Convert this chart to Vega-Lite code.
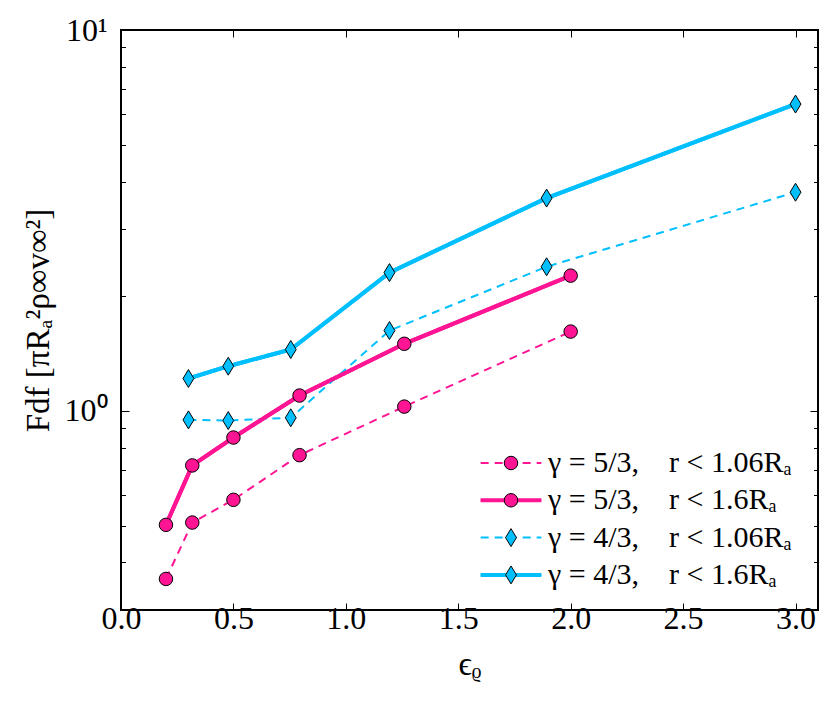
{
  "$schema": "https://vega.github.io/schema/vega-lite/v6.json",
  "width": 697,
  "height": 580,
  "autosize": {"type": "none"},
  "padding": {"left": 121, "top": 30, "right": 16, "bottom": 95},
  "background": "white",
  "config": {
    "view": {"stroke": "black", "strokeWidth": 2},
    "font": "Liberation Serif",
    "axis": {
      "domain": false,
      "grid": false,
      "tickColor": "black",
      "tickWidth": 1,
      "labelColor": "black",
      "labelFont": "Liberation Serif",
      "labelFontSize": 32,
      "labelFlush": false,
      "labelOverlap": false,
      "titleFont": "Liberation Serif",
      "titleFontSize": 33,
      "titleFontWeight": "normal",
      "titleColor": "black"
    },
    "legend": {
      "labelFont": "Liberation Serif",
      "labelColor": "black",
      "labelLimit": 0
    }
  },
  "data": {
    "values": [
      {"series": "γ = 5/3,\u2003r < 1.06Rₐ", "eps": 0.2, "F": 0.362},
      {"series": "γ = 5/3,\u2003r < 1.06Rₐ", "eps": 0.317, "F": 0.509},
      {"series": "γ = 5/3,\u2003r < 1.06Rₐ", "eps": 0.5, "F": 0.584},
      {"series": "γ = 5/3,\u2003r < 1.06Rₐ", "eps": 0.794, "F": 0.765},
      {"series": "γ = 5/3,\u2003r < 1.06Rₐ", "eps": 1.26, "F": 1.026},
      {"series": "γ = 5/3,\u2003r < 1.06Rₐ", "eps": 2.0, "F": 1.615},
      {"series": "γ = 5/3,\u2003r < 1.6Rₐ", "eps": 0.2, "F": 0.502},
      {"series": "γ = 5/3,\u2003r < 1.6Rₐ", "eps": 0.317, "F": 0.719},
      {"series": "γ = 5/3,\u2003r < 1.6Rₐ", "eps": 0.5, "F": 0.851},
      {"series": "γ = 5/3,\u2003r < 1.6Rₐ", "eps": 0.794, "F": 1.097},
      {"series": "γ = 5/3,\u2003r < 1.6Rₐ", "eps": 1.26, "F": 1.5},
      {"series": "γ = 5/3,\u2003r < 1.6Rₐ", "eps": 2.0, "F": 2.265},
      {"series": "γ = 4/3,\u2003r < 1.06Rₐ", "eps": 0.3, "F": 0.947},
      {"series": "γ = 4/3,\u2003r < 1.06Rₐ", "eps": 0.477, "F": 0.943},
      {"series": "γ = 4/3,\u2003r < 1.06Rₐ", "eps": 0.755, "F": 0.959},
      {"series": "γ = 4/3,\u2003r < 1.06Rₐ", "eps": 1.194, "F": 1.625},
      {"series": "γ = 4/3,\u2003r < 1.06Rₐ", "eps": 1.893, "F": 2.39},
      {"series": "γ = 4/3,\u2003r < 1.06Rₐ", "eps": 3.0, "F": 3.75},
      {"series": "γ = 4/3,\u2003r < 1.6Rₐ", "eps": 0.3, "F": 1.216},
      {"series": "γ = 4/3,\u2003r < 1.6Rₐ", "eps": 0.477, "F": 1.31},
      {"series": "γ = 4/3,\u2003r < 1.6Rₐ", "eps": 0.755, "F": 1.449},
      {"series": "γ = 4/3,\u2003r < 1.6Rₐ", "eps": 1.194, "F": 2.307},
      {"series": "γ = 4/3,\u2003r < 1.6Rₐ", "eps": 1.893, "F": 3.62},
      {"series": "γ = 4/3,\u2003r < 1.6Rₐ", "eps": 3.0, "F": 6.39}
    ]
  },
  "resolve": {"axis": {"x": "independent", "y": "independent"}},
  "layer": [
    {
      "mark": {"type": "line"},
      "encoding": {
        "x": {
          "field": "eps", "type": "quantitative",
          "scale": {"domain": [0, 3.1], "nice": false, "zero": false},
          "axis": {
            "orient": "bottom",
            "values": [0, 0.5, 1, 1.5, 2, 2.5, 3],
            "format": ".1f",
            "tickSize": -7,
            "labelPadding": 0,
            "title": "ϵᵨ",
            "titlePadding": 14
          }
        },
        "y": {
          "field": "F", "type": "quantitative",
          "scale": {"type": "log", "domain": [0.3, 10], "nice": false},
          "axis": {
            "orient": "left",
            "values": [0.3, 0.4, 0.5, 0.6, 0.7, 0.8, 0.9, 1, 2, 3, 4, 5, 6, 7, 8, 9, 10],
            "labelExpr": "datum.value == 1 ? '10⁰' : datum.value == 10 ? '10¹' : ''",
            "tickSize": {"condition": {"test": "datum.value == 1 || datum.value == 10", "value": -8}, "value": -4.5},
            "labelPadding": 22,
            "title": "Fdf  [πRₐ²ρ∞v∞²]",
            "titlePadding": 9
          }
        },
        "color": {
          "field": "series", "type": "nominal",
          "scale": {
            "domain": ["γ = 5/3,\u2003r < 1.06Rₐ", "γ = 5/3,\u2003r < 1.6Rₐ", "γ = 4/3,\u2003r < 1.06Rₐ", "γ = 4/3,\u2003r < 1.6Rₐ"],
            "range": ["#ff1493", "#ff1493", "#00bfff", "#00bfff"]
          },
          "legend": {
            "orient": "none",
            "legendX": 357.5,
            "legendY": 418,
            "title": null,
            "padding": 0,
            "symbolType": "M-4.5,0L4.5,0",
            "symbolSize": 182,
            "symbolOffset": 17.5,
            "symbolStrokeWidth": 2,
            "labelFontSize": 30,
            "labelOffset": 22,
            "rowPadding": 7.3
          }
        },
        "strokeDash": {
          "field": "series", "type": "nominal",
          "scale": {
            "domain": ["γ = 5/3,\u2003r < 1.06Rₐ", "γ = 5/3,\u2003r < 1.6Rₐ", "γ = 4/3,\u2003r < 1.06Rₐ", "γ = 4/3,\u2003r < 1.6Rₐ"],
            "range": [[8, 6], [1, 0], [8, 6], [1, 0]]
          }
        },
        "strokeWidth": {
          "condition": {"test": "indexof(datum.series, '1.6R') >= 0", "value": 4},
          "value": 2
        }
      }
    },
    {
      "mark": {"type": "line", "strokeWidth": 4},
      "encoding": {
        "x": {"field": "eps", "type": "quantitative", "axis": null},
        "y": {"field": "F", "type": "quantitative", "axis": null},
        "stroke": {
          "field": "series", "type": "nominal",
          "scale": {
            "domain": ["γ = 5/3,\u2003r < 1.6Rₐ", "γ = 5/3,\u2003r < 1.06Rₐ", "γ = 4/3,\u2003r < 1.6Rₐ", "γ = 4/3,\u2003r < 1.06Rₐ"],
            "range": ["#ff1493", "transparent", "#00bfff", "transparent"]
          },
          "legend": {
            "orient": "none",
            "legendX": 357.5,
            "legendY": 418,
            "title": null,
            "padding": 0,
            "values": ["γ = 5/3,\u2003r < 1.06Rₐ", "γ = 5/3,\u2003r < 1.6Rₐ", "γ = 4/3,\u2003r < 1.06Rₐ", "γ = 4/3,\u2003r < 1.6Rₐ"],
            "symbolType": "M-4.5,0L4.5,0",
            "symbolSize": 182,
            "symbolOffset": 17.5,
            "symbolStrokeWidth": 4,
            "labelFontSize": 30,
            "labelOffset": 22,
            "labelOpacity": 0,
            "rowPadding": 7.3
          }
        }
      }
    },
    {
      "mark": {"type": "point", "filled": true, "stroke": "black", "strokeWidth": 1, "opacity": 1, "size": 182},
      "encoding": {
        "x": {
          "field": "eps", "type": "quantitative",
          "axis": {
            "orient": "top",
            "values": [0, 0.5, 1, 1.5, 2, 2.5, 3],
            "tickSize": -7,
            "labels": false,
            "title": null
          }
        },
        "y": {
          "field": "F", "type": "quantitative",
          "axis": {
            "orient": "right",
            "values": [0.3, 0.4, 0.5, 0.6, 0.7, 0.8, 0.9, 1, 2, 3, 4, 5, 6, 7, 8, 9, 10],
            "tickSize": {"condition": {"test": "datum.value == 1 || datum.value == 10", "value": -8}, "value": -4.5},
            "labels": false,
            "title": null
          }
        },
        "fill": {
          "field": "series", "type": "nominal",
          "scale": {"range": ["#00bfff", "#00bfff", "#ff1493", "#ff1493"]},
          "legend": {
            "orient": "none",
            "legendX": 357.5,
            "legendY": 418,
            "title": null,
            "padding": 0,
            "values": ["γ = 5/3,\u2003r < 1.06Rₐ", "γ = 5/3,\u2003r < 1.6Rₐ", "γ = 4/3,\u2003r < 1.06Rₐ", "γ = 4/3,\u2003r < 1.6Rₐ"],
            "symbolSize": 182,
            "symbolOffset": 17.5,
            "symbolStrokeColor": "black",
            "symbolStrokeWidth": 1,
            "labelFontSize": 30,
            "labelOffset": 22,
            "labelOpacity": 0,
            "rowPadding": 7.3
          }
        },
        "shape": {
          "field": "series", "type": "nominal",
          "scale": {"range": ["M0,-1.33L0.81,0L0,1.33L-0.81,0Z", "M0,-1.33L0.81,0L0,1.33L-0.81,0Z", "circle", "circle"]}
        }
      }
    }
  ]
}
